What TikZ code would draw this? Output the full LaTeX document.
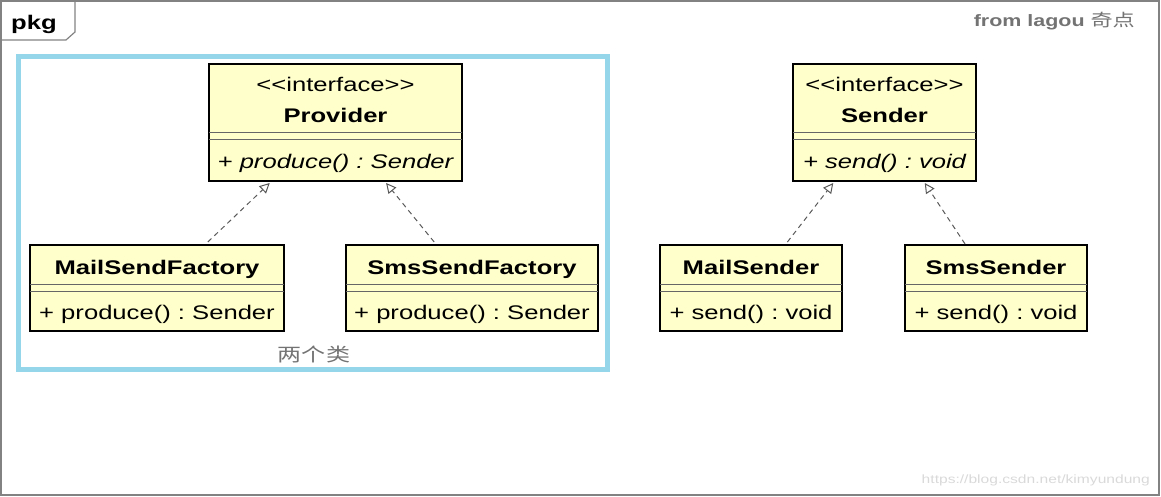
\documentclass[tikz,border=0pt]{standalone}
\usepackage{fontspec}
\setmainfont{Liberation Sans}[FakeStretch=1.3, Ligatures=TeXOff]
\newfontfamily\cjk{Noto Sans CJK SC}[FakeStretch=1.3]
\usetikzlibrary{arrows.meta,calc}
\frenchspacing
\definecolor{clsfill}{RGB}{255,255,204}
\definecolor{pkgblue}{RGB}{150,214,234}
\definecolor{framegray}{RGB}{130,130,130}
\tikzset{
  cls/.style={draw=black, line width=1.6pt, fill=clsfill, rectangle, anchor=north west, inner sep=0pt, outer sep=0pt},
  sepl/.style={draw=black!60, line width=1pt},
  regtxt/.style={font=\fontsize{19.7}{22}\selectfont, inner sep=0pt, anchor=base},
  boldtxt/.style={font=\fontsize{19.7}{22}\selectfont\bfseries, inner sep=0pt, anchor=base},
  itatxt/.style={font=\fontsize{19.7}{22}\selectfont\itshape, inner sep=0pt, anchor=base},
  realize/.style={draw=black!65, line width=1pt, dash pattern=on 5pt off 4pt, -{Triangle[open,length=10pt,width=10pt]}},
}
\begin{document}
\begin{tikzpicture}[x=1pt,y=-1pt]
\useasboundingbox (0,0) rectangle (1161,497);
% outer frame and tab
\draw[framegray, line width=1.5pt] (1,1) rectangle (1159,495);
\draw[framegray, line width=1.2pt] (1,40) -- (66,40) -- (75,32) -- (75,1);
\node[boldtxt] (pkg) at (34,30) {pkg};
\node[font=\fontsize{16.5}{20}\selectfont, text=black!55, inner sep=0pt, anchor=base east] (from) at (1135,27) {\bfseries from lagou {\cjk\mdseries\fontsize{17}{20}\selectfont 奇点}};
% blue package rectangle
\node[draw=pkgblue, line width=5pt, rectangle, anchor=north west, inner sep=0pt, outer sep=0pt, minimum width=589pt, minimum height=313pt] (grp) at (18.5,56.5) {};
\node[font=\cjk\fontsize{18.5}{20}\selectfont, text=black!55, inner sep=0pt] (two) at (314,354) {两个类};
% Provider
\node[cls, minimum width=253pt, minimum height=117pt] (prov) at (209,64) {};
\draw[sepl] ([yshift=-69pt]prov.north west) -- ([yshift=-69pt]prov.north east);
\draw[sepl] ([yshift=-76pt]prov.north west) -- ([yshift=-76pt]prov.north east);
\node[regtxt] (provst) at ([yshift=-28pt]prov.north) {<<interface>>};
\node[boldtxt] (provnm) at ([yshift=-59pt]prov.north) {Provider};
\node[itatxt] (provop) at ([yshift=-104pt]prov.north) {+ produce() : Sender};
% MailSendFactory
\node[cls, minimum width=254pt, minimum height=86pt] (msf) at (30,245) {};
\draw[sepl] ([yshift=-39pt]msf.north west) -- ([yshift=-39pt]msf.north east);
\draw[sepl] ([yshift=-46pt]msf.north west) -- ([yshift=-46pt]msf.north east);
\node[boldtxt] (msfnm) at ([yshift=-29pt]msf.north) {MailSendFactory};
\node[regtxt] (msfop) at ([yshift=-74pt]msf.north) {+ produce() : Sender};
% SmsSendFactory
\node[cls, minimum width=252pt, minimum height=86pt] (ssf) at (346,245) {};
\draw[sepl] ([yshift=-39pt]ssf.north west) -- ([yshift=-39pt]ssf.north east);
\draw[sepl] ([yshift=-46pt]ssf.north west) -- ([yshift=-46pt]ssf.north east);
\node[boldtxt] (ssfnm) at ([yshift=-29pt]ssf.north) {SmsSendFactory};
\node[regtxt] (ssfop) at ([yshift=-74pt]ssf.north) {+ produce() : Sender};
% Sender
\node[cls, minimum width=183pt, minimum height=117pt] (snd) at (793,64) {};
\draw[sepl] ([yshift=-69pt]snd.north west) -- ([yshift=-69pt]snd.north east);
\draw[sepl] ([yshift=-76pt]snd.north west) -- ([yshift=-76pt]snd.north east);
\node[regtxt] (sndst) at ([yshift=-28pt]snd.north) {<<interface>>};
\node[boldtxt] (sndnm) at ([yshift=-59pt]snd.north) {Sender};
\node[itatxt] (sndop) at ([yshift=-104pt]snd.north) {+ send() : void};
% MailSender
\node[cls, minimum width=182pt, minimum height=86pt] (ms) at (660,245) {};
\draw[sepl] ([yshift=-39pt]ms.north west) -- ([yshift=-39pt]ms.north east);
\draw[sepl] ([yshift=-46pt]ms.north west) -- ([yshift=-46pt]ms.north east);
\node[boldtxt] (msnm) at ([yshift=-29pt]ms.north) {MailSender};
\node[regtxt] (msop) at ([yshift=-74pt]ms.north) {+ send() : void};
% SmsSender
\node[cls, minimum width=182pt, minimum height=86pt] (ss) at (905,245) {};
\draw[sepl] ([yshift=-39pt]ss.north west) -- ([yshift=-39pt]ss.north east);
\draw[sepl] ([yshift=-46pt]ss.north west) -- ([yshift=-46pt]ss.north east);
\node[boldtxt] (ssnm) at ([yshift=-29pt]ss.north) {SmsSender};
\node[regtxt] (ssop) at ([yshift=-74pt]ss.north) {+ send() : void};
% realizations
\draw[realize] ($(msf.north west)!0.70!(msf.north east)+(0,-3)$) -- ($(prov.south west)!0.24!(prov.south east)+(0,2)$);
\draw[realize] ($(ssf.north west)!0.35!(ssf.north east)+(0,-3)$) -- ($(prov.south west)!0.70!(prov.south east)+(0,2)$);
\draw[realize] ($(ms.north west)!0.70!(ms.north east)+(0,-3)$) -- ($(snd.south west)!0.22!(snd.south east)+(0,2)$);
\draw[realize] ($(ss.north west)!0.33!(ss.north east)+(0,-1)$) -- ($(snd.south west)!0.72!(snd.south east)+(0,2)$);
% watermark
\node[font=\fontsize{12}{14}\selectfont, text=black!15, inner sep=0pt, anchor=base east] (wm) at (1150,483) {https://blog.csdn.net/kimyundung};
\end{tikzpicture}
\end{document}
